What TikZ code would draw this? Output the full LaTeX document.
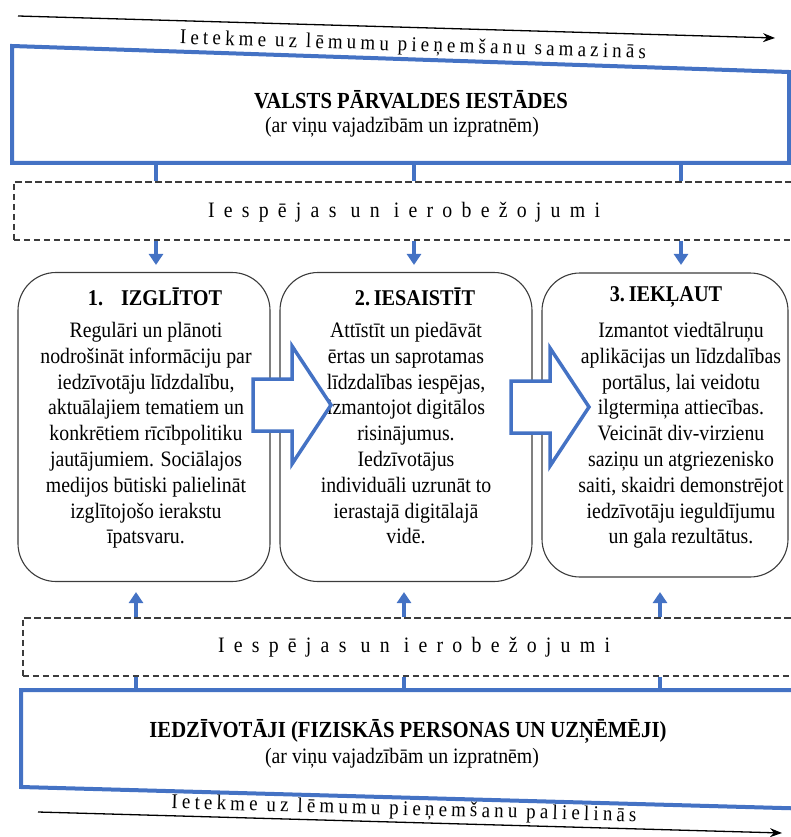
\documentclass[tikz,border=0pt]{standalone}
\usepackage{fontspec}
\setmainfont{Liberation Serif}[FakeStretch=0.9]
\newfontfamily\widespaced{Liberation Serif}[LetterSpace=42,FakeStretch=0.9]
\newfontfamily\arrowspaced{Liberation Serif}[LetterSpace=20,FakeStretch=0.9]
\usetikzlibrary{arrows.meta}
\usetikzlibrary{positioning}
\definecolor{pblue}{RGB}{68,114,196}
\definecolor{pgray}{RGB}{60,60,60}

\tikzset{
  stagebox/.style={draw=pgray, line width=1.1pt, rounded corners=38pt,
    minimum width=252pt, minimum height=309pt, inner sep=0pt},
  stagetitle/.style={font=\fontsize{22.5}{26}\selectfont\bfseries, inner sep=0pt},
  stagetext/.style={font=\fontsize{22}{25.8}\selectfont, align=center, inner sep=0pt, anchor=north},
  limitbox/.style={draw=pgray, line width=1.6pt, dash pattern=on 6.5pt off 3.5pt,
    minimum width=790pt, minimum height=58pt, anchor=north west, inner sep=0pt},
  limittext/.style={font=\widespaced\fontsize{22}{26}\selectfont, inner sep=0pt},
  groupbox/.style={draw=pblue, line width=4pt, line join=miter},
  grouptitle/.style={font=\fontsize{23}{26}\selectfont\bfseries, inner sep=0pt},
  groupnote/.style={font=\fontsize{22}{26}\selectfont, inner sep=0pt},
  bluelink/.style={pblue, line width=4pt},
  bluearrow/.style={pblue, line width=4pt, -{Triangle[width=14pt,length=11pt]}},
  influence/.style={black, line width=1.3pt, -{Stealth[length=12pt,width=9pt]}},
  influencetext/.style={font=\arrowspaced\fontsize{21}{24}\selectfont, inner sep=0pt},
  hollowarrow/.style={draw=pblue, fill=white, line width=3.5pt, line join=miter},
}

\begin{document}
\begin{tikzpicture}[x=1pt,y=-1pt]
  \useasboundingbox (0,0) rectangle (791,837);
  %% influence decreases (top)
  \coordinate (topA) at (18,16);
  \coordinate (topB) at (775,38);
  \draw [influence] (topA) -- (topB);
  \node [influencetext, rotate=-1.8] (toplabel) at (413,46) {Ietekme uz lēmumu pieņemšanu samazinās};
  %% state institutions
  \draw [groupbox] (12,46) -- (789,72) -- (789,163) -- (12,163) -- cycle;
  \node [grouptitle] (valsts) at (411,100) {VALSTS PĀRVALDES IESTĀDES};
  \node [groupnote] (valstsnote) at (402,127) {(ar viņu vajadzībām un izpratnēm)};
  %% opportunities and limits (top)
  \node [limitbox] (limtop) at (13,181) {};
  \node [limittext] (limtoptext) at (404,212) {Iespējas un ierobežojumi};
  %% three stages
  \node [stagebox] (izglitot) at (144,427) {};
  \node [stagebox] (iesaistit) at (406,427) {};
  \node [stagebox, minimum width=246pt, minimum height=304pt] (ieklaut) at (665,425) {};
  \node [stagetitle] (izglitottitle) at (155,297) {1.\hspace{0.8em}IZGLĪTOT};
  \node [stagetitle] (iesaistittitle) at (415,297) {2.\,IESAISTĪT};
  \node [stagetitle] (ieklauttitle) at (666,297) {3.\,IEKĻAUT};
  \node [stagetext] (izglitottext) at (146,322) {Regulāri un plānoti\\ nodrošināt informāciju par\\ iedzīvotāju līdzdalību,\\
    aktuālajiem tematiem un\\ konkrētiem rīcībpolitiku\\ jautājumiem. Sociālajos\\ medijos būtiski palielināt\\
    izglītojošo ierakstu\\ īpatsvaru.};
  \node [stagetext] (iesaistittext) at (406,322) {Attīstīt un piedāvāt\\ ērtas un saprotamas\\ līdzdalības iespējas,\\
    izmantojot digitālos\\ risinājumus.\\ Iedzīvotājus\\ individuāli uzrunāt to\\ ierastajā digitālajā\\ vidē.};
  \node [stagetext] (ieklauttext) at (681,322) {Izmantot viedtālruņu\\ aplikācijas un līdzdalības\\ portālus, lai veidotu\\
    ilgtermiņa attiecības.\\ Veicināt div-virzienu\\ saziņu un atgriezenisko\\ saiti, skaidri demonstrējot\\
    iedzīvotāju ieguldījumu\\ un gala rezultātus.};
  %% hollow arrows between stages
  \draw [hollowarrow] (253,379) -- ++(39,0) -- ++(0,-33) -- ++(39,59) -- ++(-39,59) -- ++(0,-33) -- ++(-39,0) -- cycle;
  \draw [hollowarrow] (511,381) -- ++(39,0) -- ++(0,-33) -- ++(39,59) -- ++(-39,59) -- ++(0,-33) -- ++(-39,0) -- cycle;
  %% links from state institutions down to the stages
  \coordinate (down1) at (156,163);
  \coordinate (down2) at (414,163);
  \coordinate (down3) at (681,163);
  \draw [bluelink] (down1) -- (down1 |- limtop.north);
  \draw [bluelink] (down2) -- (down2 |- limtop.north);
  \draw [bluelink] (down3) -- (down3 |- limtop.north);
  \draw [bluearrow, shorten >=7pt] (down1 |- limtop.south) -- (down1 |- izglitot.north);
  \draw [bluearrow, shorten >=7pt] (down2 |- limtop.south) -- (down2 |- iesaistit.north);
  \draw [bluearrow, shorten >=7pt] (down3 |- limtop.south) -- (down3 |- izglitot.north);
  %% opportunities and limits (bottom)
  \node [limitbox] (limbot) at (22,617) {};
  \node [limittext] (limbottext) at (414,647) {Iespējas un ierobežojumi};
  %% residents
  \draw [groupbox] (21,690) -- (800,690) -- (800,808.5) -- (21,787) -- cycle;
  \node [grouptitle] (iedz) at (408,731) {IEDZĪVOTĀJI (FIZISKĀS PERSONAS UN UZŅĒMĒJI)};
  \node [groupnote] (iedznote) at (402,758) {(ar viņu vajadzībām un izpratnēm)};
  %% links from residents up to the stages
  \coordinate (up1) at (136,690);
  \coordinate (up2) at (404,690);
  \coordinate (up3) at (660,690);
  \draw [bluelink] (up1) -- (up1 |- limbot.south);
  \draw [bluelink] (up2) -- (up2 |- limbot.south);
  \draw [bluelink] (up3) -- (up3 |- limbot.south);
  \draw [bluearrow, shorten >=10pt] (up1 |- limbot.north) -- (up1 |- izglitot.south);
  \draw [bluearrow, shorten >=10pt] (up2 |- limbot.north) -- (up2 |- izglitot.south);
  \draw [bluearrow, shorten >=10pt] (up3 |- limbot.north) -- (up3 |- izglitot.south);
  %% influence increases (bottom)
  \coordinate (botA) at (38,812);
  \coordinate (botB) at (782,833);
  \draw [influence] (botA) -- (botB);
  \node [influencetext, rotate=-1.6] (botlabel) at (404,810) {Ietekme uz lēmumu pieņemšanu palielinās};
\end{tikzpicture}
\end{document}
